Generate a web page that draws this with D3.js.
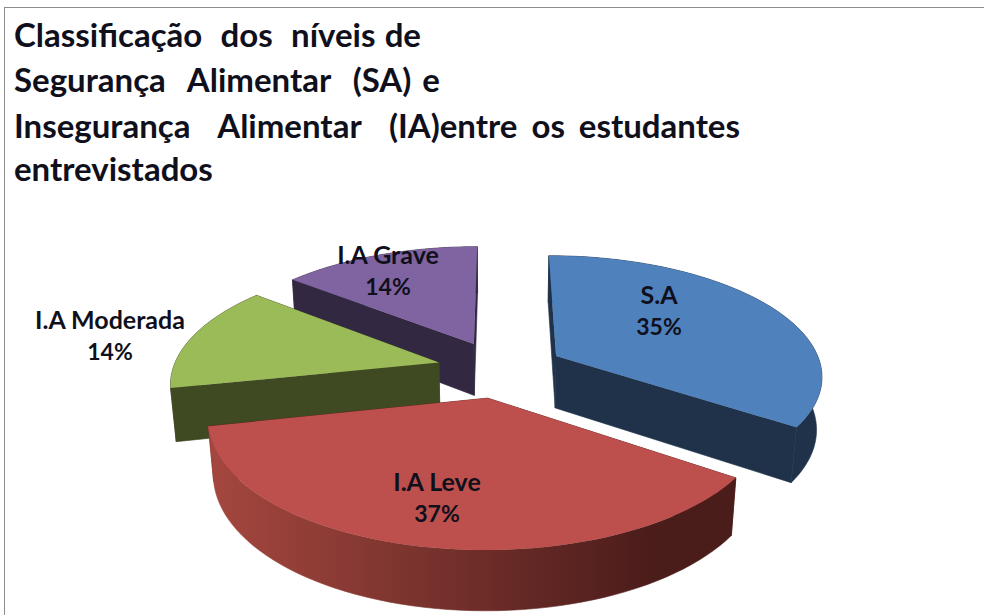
<!DOCTYPE html>
<html>
  <head>
    <title>Classificação SA / IA</title>
    <script src="https://d3js.org/d3.v7.min.js"></script>
    <style>
      html, body { margin: 0; padding: 0; background: #ffffff; overflow: hidden; }
      text { font-family: Lato, "Open Sans", sans-serif; font-weight: 700; fill: #10101c; }
    </style>
  </head>
  <body>
    <svg width="984" height="615" id="mainsvg" style="display: block; background-color: #ffffff;"></svg>
    <script>
        // chart values (slice sizes, labels as printed)
        const categories = ['S.A', 'I.A Leve', 'I.A Moderada', 'I.A Grave'];
        const values = [34.6, 37, 14.2, 14.2];
        const percentLabels = ['35%', '37%', '14%', '14%'];
        const titleLines = [
            'Classificação  dos  níveis de',
            'Segurança  Alimentar  (SA) e',
            'Insegurança  Alimentar  (IA)entre os estudantes',
            'entrevistados'
        ];

        // styles, in the same order as categories
        const topColors = ['#4f81bd', '#bd4f4c', '#9bbb59', '#8064a2'];
        const sideColors = ['#1f3249', '#5a2220', '#3f4a23', '#332842'];
        const rimStops = [
            ['#1f3249', '#1f3249'],
            ['#a5473f', '#4a1c1a'],
            ['#3f4a23', '#3f4a23'],
            ['#332842', '#332842']
        ];

        const svg = d3.select('#mainsvg');
        const defs = svg.append('defs');

        // layout
        const center = {x: 500.5, y: 369};
        const radius = 266;
        const explode = 0.24;
        const tilt = 26.6 * Math.PI / 180;
        const camera = 5.9;
        const thickness = 0.225;
        const titleLayout = {x: 14, baselines: [47, 92, 138, 181], widths: [407, 426, 726, 207], size: 33};
        const labelLayout = [
            {x: 659, y: 304}, {x: 437, y: 491}, {x: 110, y: 329}, {x: 388, y: 264}
        ];

        // ground plane (u to the right, v towards the viewer, h up) -> screen
        const project = function(u, v, h){
            const z = v * Math.cos(tilt) + h * Math.sin(tilt);
            const w = camera / (camera - z);
            return [
                center.x + radius * u * w,
                center.y + radius * (v * Math.sin(tilt) - h * Math.cos(tilt)) * w
            ];
        };

        const pie = d3.pie().sort(null).value(d => d)(values);
        const line = d3.line();

        const renderSlice = function(d, i){
            const mid = (d.startAngle + d.endAngle) / 2;
            const du = explode * Math.sin(mid);
            const dv = -explode * Math.cos(mid);
            const at = (a, h) => project(du + Math.sin(a), dv - Math.cos(a), h);
            const hub = h => project(du, dv, h);

            const steps = d3.range(0, 61).map(k => d.startAngle + (d.endAngle - d.startAngle) * k / 60);
            const topArc = steps.map(a => at(a, 0));
            const lowArc = steps.map(a => at(a, -thickness));

            const g = svg.append('g').attr('class', 'slice');

            // radial walls
            [d.startAngle, d.endAngle].forEach(a => {
                g.append('path')
                .attr('d', line([hub(0), at(a, 0), at(a, -thickness), hub(-thickness)]) + 'Z')
                .attr('fill', sideColors[i])
                .attr('stroke', sideColors[i]).attr('stroke-width', 0.6);
            });

            // outer wall with its left to right shading
            const xs = d3.extent(topArc.concat(lowArc), p => p[0]);
            const grad = defs.append('linearGradient')
            .attr('id', 'rim' + i)
            .attr('gradientUnits', 'userSpaceOnUse')
            .attr('x1', xs[0]).attr('x2', xs[0] + (xs[1] - xs[0]) * 0.85)
            .attr('y1', 0).attr('y2', 0);
            grad.append('stop').attr('offset', 0).attr('stop-color', rimStops[i][0]);
            grad.append('stop').attr('offset', 1).attr('stop-color', rimStops[i][1]);

            g.append('path')
            .attr('d', line(topArc.concat(lowArc.slice().reverse())) + 'Z')
            .attr('fill', `url(#rim${i})`)
            .attr('stroke', `url(#rim${i})`).attr('stroke-width', 0.6);

            // top face
            g.append('path')
            .attr('d', line([hub(0)].concat(topArc)) + 'Z')
            .attr('fill', topColors[i]);
        };

        // back to front: Grave, S.A, Moderada, Leve
        [3, 0, 2, 1].forEach(i => renderSlice(pie[i], i));

        // data labels
        categories.forEach((c, i) => {
            svg.append('text')
            .attr('x', labelLayout[i].x).attr('y', labelLayout[i].y)
            .attr('text-anchor', 'middle').attr('font-size', 25)
            .text(c);
            svg.append('text')
            .attr('x', labelLayout[i].x).attr('y', labelLayout[i].y + 31)
            .attr('text-anchor', 'middle').attr('font-size', 23)
            .text(percentLabels[i]);
        });

        // title, word gaps stretched to the original line widths
        titleLines.forEach((t, i) => {
            const txt = svg.append('text')
            .attr('x', titleLayout.x).attr('y', titleLayout.baselines[i])
            .attr('font-size', titleLayout.size)
            .style('white-space', 'pre')
            .text(t);
            const gaps = t.split(' ').length - 1;
            if(gaps > 0){
                const extra = titleLayout.widths[i] - txt.node().getComputedTextLength();
                txt.attr('word-spacing', extra / gaps);
            }
        });

        // chart frame, runs off the right and bottom of the picture
        svg.append('rect')
        .attr('x', 4.5).attr('y', 7.5)
        .attr('width', 1000).attr('height', 700)
        .attr('fill', 'none').attr('stroke', '#8c8c8c').attr('stroke-width', 1);
    </script>
  </body>
</html>
